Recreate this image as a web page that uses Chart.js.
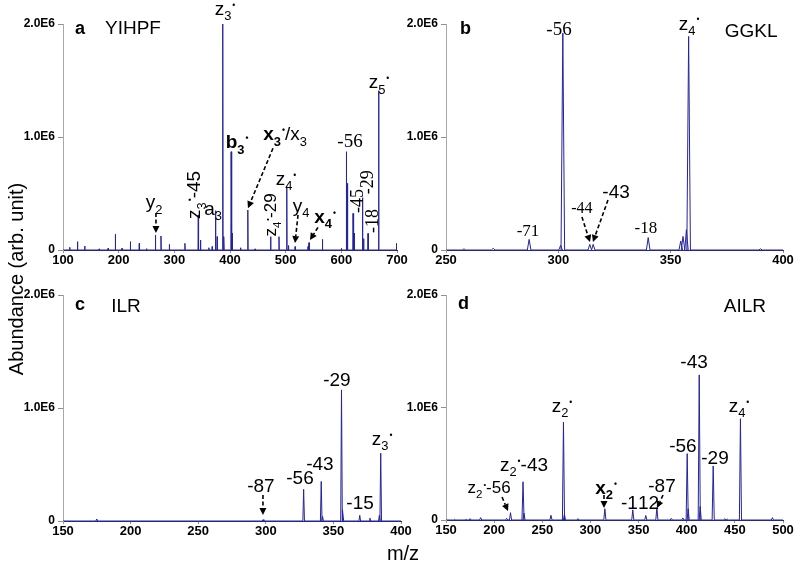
<!DOCTYPE html>
<html>
<head>
<meta charset="utf-8">
<script src="https://cdn.jsdelivr.net/npm/chart.js@4.4.1/dist/chart.umd.min.js"></script>
<style>
  body { margin: 0; background: #fff; width: 800px; height: 569px; overflow: hidden; position: relative; }
  canvas { position: absolute; left: 0; top: 0; }
</style>
</head>
<body>
<canvas id="ca" width="800" height="569"></canvas>
<canvas id="cb" width="800" height="569"></canvas>
<canvas id="cc" width="800" height="569"></canvas>
<canvas id="cd" width="800" height="569"></canvas>
<script>
// abundance values are in units of 1E6 (arb. unit)
const yTicks = [0, 1, 2];

// a: YIHPF
const aTicks = [100, 200, 300, 400, 500, 600, 700];
const aMz  = [112, 126, 139, 165, 181, 194, 206, 221, 237, 250, 266, 276, 291, 319, 343, 347, 362, 368, 374, 377, 387, 389, 402, 404, 419, 432, 445, 473, 488, 502, 505, 517, 540, 542, 566, 600, 609, 611, 621, 623, 638, 640, 648, 667, 699];
const aAbu = [0.024, 0.074, 0.035, 0.01, 0.015, 0.139, 0.015, 0.074, 0.059, 0.012, 0.133, 0.124, 0.05, 0.059, 0.31, 0.088, 0.02, 0.03, 0.348, 0.118, 2.0, 0.118, 0.87, 0.147, 0.02, 0.354, 0.01, 0.118, 0.118, 0.56, 0.04, 0.03, 0.03, 0.065, 0.094, 0.015, 0.87, 0.59, 0.324, 0.15, 0.463, 0.1, 0.147, 1.41, 0.059];

// b: GGKL
const bTicks = [250, 300, 350, 400];
const bMz  = [258, 271, 287, 301, 302, 314, 315.5, 340, 354.5, 355.5, 357, 358, 390];
const bAbu = [0.01, 0.015, 0.094, 0.04, 1.92, 0.05, 0.05, 0.11, 0.08, 0.12, 0.18, 1.89, 0.01];

// c: ILR
const cTicks = [150, 200, 250, 300, 350, 400];
const cMz  = [175, 298, 328, 341, 342, 356, 357, 369.5, 377, 384, 385];
const cAbu = [0.018, 0.012, 0.28, 0.35, 0.04, 1.16, 0.1, 0.05, 0.025, 0.05, 0.60];

// d: AILR
const dTicks = [150, 200, 250, 300, 350, 400, 450, 500];
const dMz  = [159, 171, 175, 186, 213, 217, 230, 231, 259, 272, 273, 287, 315, 344, 357.5, 369, 384, 396, 400.5, 401.5, 413, 414, 427.5, 439.5, 442, 455.8, 489];
const dAbu = [0.006, 0.006, 0.012, 0.021, 0.015, 0.065, 0.34, 0.06, 0.042, 0.87, 0.05, 0.012, 0.10, 0.09, 0.04, 0.11, 0.015, 0.018, 0.59, 0.1, 1.29, 0.12, 0.48, 0.012, 0.009, 0.90, 0.021];

// peak labels, in data coordinates (m/z, abundance). _ = subscript, ^ = superscript, ~ toggles bold
const aLabels = [
  { x: 121.6, y: 1.91, t: 'a', bold: true, size: 18, align: 'left' },
  { x: 175.4, y: 1.91, t: 'YIHPF', align: 'left' },
  { x: 391, y: 2.08, t: 'z_3^•' },
  { x: 667.7, y: 1.43, t: 'z_5^•' },
  { x: 412.6, y: 0.90, t: 'b_3^•', bold: true },
  { x: 498.8, y: 0.97, t: '~x_3^•~/x_3' },
  { x: 615.6, y: 0.91, t: '-56', serif: true },
  { x: 500.6, y: 0.575, t: 'z_4^•' },
  { x: 263.5, y: 0.37, t: 'y_2' },
  { x: 335, y: 0.487, t: 'z_3^•-45', rot: true },
  { x: 369.5, y: 0.31, t: 'a_3' },
  { x: 471.9, y: 0.31, t: 'z_4^•-29', rot: true, size: 17 },
  { x: 527.5, y: 0.336, t: 'y_4' },
  { x: 570.7, y: 0.24, t: 'x_4^•', bold: true },
  { x: 628, y: 0.434, t: '-45', serif: true, rot: true, size: 18 },
  { x: 646, y: 0.60, t: '-29', serif: true, rot: true, size: 18 },
  { x: 655, y: 0.257, t: '-18', serif: true, rot: true, size: 18 }
];
const aArrows = [[267, 0.327, 267, 0.15], [477.2, 0.90, 432.3, 0.37], [522.2, 0.31, 516.8, 0.062], [558, 0.20, 543.7, 0.088]];

const bLabels = [
  { x: 256.2, y: 1.91, t: 'b', bold: true, size: 18, align: 'left' },
  { x: 385.8, y: 1.885, t: 'GGKL' },
  { x: 300.3, y: 1.90, t: '-56', serif: true },
  { x: 358.2, y: 1.95, t: 'z_4^•' },
  { x: 286.5, y: 0.124, t: '-71', serif: true, size: 17 },
  { x: 310.5, y: 0.327, t: '-44', serif: true, size: 16 },
  { x: 325.7, y: 0.46, t: '-43' },
  { x: 339, y: 0.15, t: '-18', serif: true, size: 17 }
];
const bArrows = [[310.5, 0.292, 314.1, 0.071], [322.1, 0.442, 315.4, 0.071]];

const cLabels = [
  { x: 158.9, y: 1.867, t: 'c', bold: true, size: 18, align: 'left' },
  { x: 196.6, y: 1.85, t: 'ILR' },
  { x: 352.6, y: 1.195, t: '-29' },
  { x: 386, y: 0.673, t: 'z_3^•' },
  { x: 340, y: 0.451, t: '-43' },
  { x: 325.3, y: 0.327, t: '-56' },
  { x: 296.4, y: 0.257, t: '-87' },
  { x: 369.7, y: 0.106, t: '-15' }
];
const cArrows = [[297.9, 0.23, 297.9, 0.053]];

const dLabels = [
  { x: 162.5, y: 1.876, t: 'd', bold: true, size: 18, align: 'left' },
  { x: 460.5, y: 1.85, t: 'AILR' },
  { x: 407.6, y: 1.351, t: '-43' },
  { x: 270.5, y: 0.96, t: 'z_2^•' },
  { x: 454.3, y: 0.96, t: 'z_4^•' },
  { x: 396.1, y: 0.604, t: '-56' },
  { x: 429.4, y: 0.498, t: '-29' },
  { x: 231, y: 0.436, t: 'z_2^•-43' },
  { x: 194.7, y: 0.24, t: 'z_2^•-56', size: 17 },
  { x: 316.2, y: 0.231, t: 'x_2^•', bold: true },
  { x: 351.5, y: 0.098, t: '-112' },
  { x: 374.3, y: 0.249, t: '-87' }
];
const dArrows = [[208.2, 0.204, 214.4, 0.08], [314.1, 0.222, 314.1, 0.107], [375.4, 0.222, 369.1, 0.107]];

const SANS = '"Liberation Sans", Arial, sans-serif';
const SERIF = '"Liberation Serif", "Times New Roman", serif';
const LINE = '#24249c';

function stick(mz, abu, lo, hi, w) {
  const pts = [{ x: lo, y: 0 }];
  mz.forEach((m, i) => {
    pts.push({ x: m - w, y: 0 }, { x: m, y: abu[i] }, { x: m + w, y: 0 });
  });
  pts.push({ x: hi, y: 0 });
  return pts;
}

function parse(t, bold) {
  const out = [];
  let b = bold;
  for (let i = 0; i < t.length; i++) {
    const c = t[i];
    if (c === '~') { b = !b; continue; }
    if (c === '_') { out.push({ c: t[++i], k: 'sub', b }); continue; }
    if (c === '^') { out.push({ c: t[++i], k: 'sup', b }); continue; }
    out.push({ c, k: 'n', b });
  }
  return out;
}

function drawRich(ctx, lab, px, py) {
  const size = lab.size || 19;
  const fam = lab.serif ? SERIF : SANS;
  const parts = parse(lab.t, !!lab.bold);
  let w = 0;
  parts.forEach(p => {
    p.s = p.k === 'n' ? size : p.k === 'sub' ? size * 0.68 : size * 0.45;
    p.dy = p.k === 'sub' ? size * 0.28 : p.k === 'sup' ? -size * 0.38 : 0;
    p.f = (p.b ? 'bold ' : '') + p.s + 'px ' + fam;
    ctx.font = p.f;
    p.pad = p.k === 'sup' ? 1 : 0;
    p.w = ctx.measureText(p.c).width + p.pad;
    w += p.w;
  });
  ctx.save();
  ctx.translate(px, py);
  let x0 = lab.align === 'left' ? 0 : -w / 2;
  let y0 = 0;
  if (lab.rot) { ctx.rotate(-Math.PI / 2); x0 = -w / 2; y0 = size * 0.35; }
  ctx.fillStyle = '#000';
  ctx.textAlign = 'left';
  ctx.textBaseline = 'alphabetic';
  parts.forEach(p => { ctx.font = p.f; ctx.fillText(p.c, x0 + p.pad, y0 + p.dy); x0 += p.w; });
  ctx.restore();
}

function drawArrow(ctx, x1, y1, x2, y2) {
  const a = Math.atan2(y2 - y1, x2 - x1), L = 7, W = 3.5;
  const bx = x2 - L * Math.cos(a), by = y2 - L * Math.sin(a);
  ctx.save();
  ctx.strokeStyle = '#000';
  ctx.lineWidth = 1.6;
  ctx.setLineDash([4, 2.5]);
  ctx.beginPath(); ctx.moveTo(x1, y1); ctx.lineTo(bx, by); ctx.stroke();
  ctx.setLineDash([]);
  ctx.fillStyle = '#000';
  ctx.beginPath();
  ctx.moveTo(x2, y2);
  ctx.lineTo(bx - W * Math.sin(a), by + W * Math.cos(a));
  ctx.lineTo(bx + W * Math.sin(a), by - W * Math.cos(a));
  ctx.closePath(); ctx.fill();
  ctx.restore();
}

function annotations(labels, arrows) {
  return {
    id: 'peakLabels',
    afterDraw(chart) {
      const ctx = chart.ctx, sx = chart.scales.x, sy = chart.scales.y;
      arrows.forEach(a => drawArrow(ctx, sx.getPixelForValue(a[0]), sy.getPixelForValue(a[1]),
        sx.getPixelForValue(a[2]), sy.getPixelForValue(a[3])));
      labels.forEach(l => drawRich(ctx, l, sx.getPixelForValue(l.x), sy.getPixelForValue(l.y)));
    }
  };
}

// shared axis titles
const titles = {
  id: 'titles',
  afterDraw(chart) {
    const ctx = chart.ctx;
    ctx.save();
    ctx.fillStyle = '#000';
    ctx.font = '20px ' + SANS;
    ctx.textAlign = 'center';
    ctx.textBaseline = 'middle';
    ctx.fillText('m/z', 403, 554);
    ctx.translate(17, 279);
    ctx.rotate(-Math.PI / 2);
    ctx.fillText('Abundance (arb. unit)', 0, 0);
    ctx.restore();
  }
};

function panel(id, o) {
  return new Chart(document.getElementById(id), {
    type: 'line',
    data: {
      datasets: [{
        data: stick(o.mz, o.abu, o.lo, o.hi, o.w),
        borderColor: LINE,
        borderWidth: 1,
        pointRadius: 0,
        tension: 0,
        fill: false
      }]
    },
    options: {
      responsive: false,
      animation: false,
      events: [],
      layout: { padding: o.pad },
      plugins: { legend: { display: false }, tooltip: { enabled: false } },
      scales: {
        x: {
          type: 'linear', min: o.lo, max: o.hi,
          afterBuildTicks: s => { s.ticks = o.ticks.map(v => ({ value: v })); },
          afterFit: s => { s.height = 20; },
          grid: { display: true, drawOnChartArea: false, drawTicks: true, tickLength: 3, color: '#909090' },
          border: { display: true, color: LINE, width: 1 },
          ticks: { color: '#000', padding: 0, maxRotation: 0, autoSkip: false, font: { family: SANS, size: 13, weight: 'bold' } }
        },
        y: {
          min: 0, max: 2,
          afterBuildTicks: s => { s.ticks = yTicks.map(v => ({ value: v })); },
          afterFit: s => { s.width = o.yw; },
          grid: { display: true, drawOnChartArea: false, drawTicks: true, tickLength: 5, color: '#909090' },
          border: { display: true, color: '#a8a8b0', width: 1 },
          ticks: {
            color: '#000', padding: 3, font: { family: SANS, size: 12, weight: 'bold' },
            callback: v => (v === 0 ? '0' : v.toFixed(1) + 'E6')
          }
        }
      }
    },
    plugins: o.plugins
  });
}

panel('ca', { mz: aMz, abu: aAbu, lo: 100, hi: 700, w: 0.5, ticks: aTicks, yw: 63,
  pad: { left: 0, top: 24, right: 403, bottom: 299 }, plugins: [annotations(aLabels, aArrows), titles] });
panel('cb', { mz: bMz, abu: bAbu, lo: 250, hi: 400, w: 0.8, ticks: bTicks, yw: 60,
  pad: { left: 386, top: 24, right: 17, bottom: 299 }, plugins: [annotations(bLabels, bArrows)] });
panel('cc', { mz: cMz, abu: cAbu, lo: 150, hi: 400, w: 0.6, ticks: cTicks, yw: 63,
  pad: { left: 0, top: 295, right: 399, bottom: 28 }, plugins: [annotations(cLabels, cArrows)] });
panel('cd', { mz: dMz, abu: dAbu, lo: 150, hi: 500, w: 1.1, ticks: dTicks, yw: 60,
  pad: { left: 386, top: 295, right: 17, bottom: 29 }, plugins: [annotations(dLabels, dArrows)] });
</script>
</body>
</html>
